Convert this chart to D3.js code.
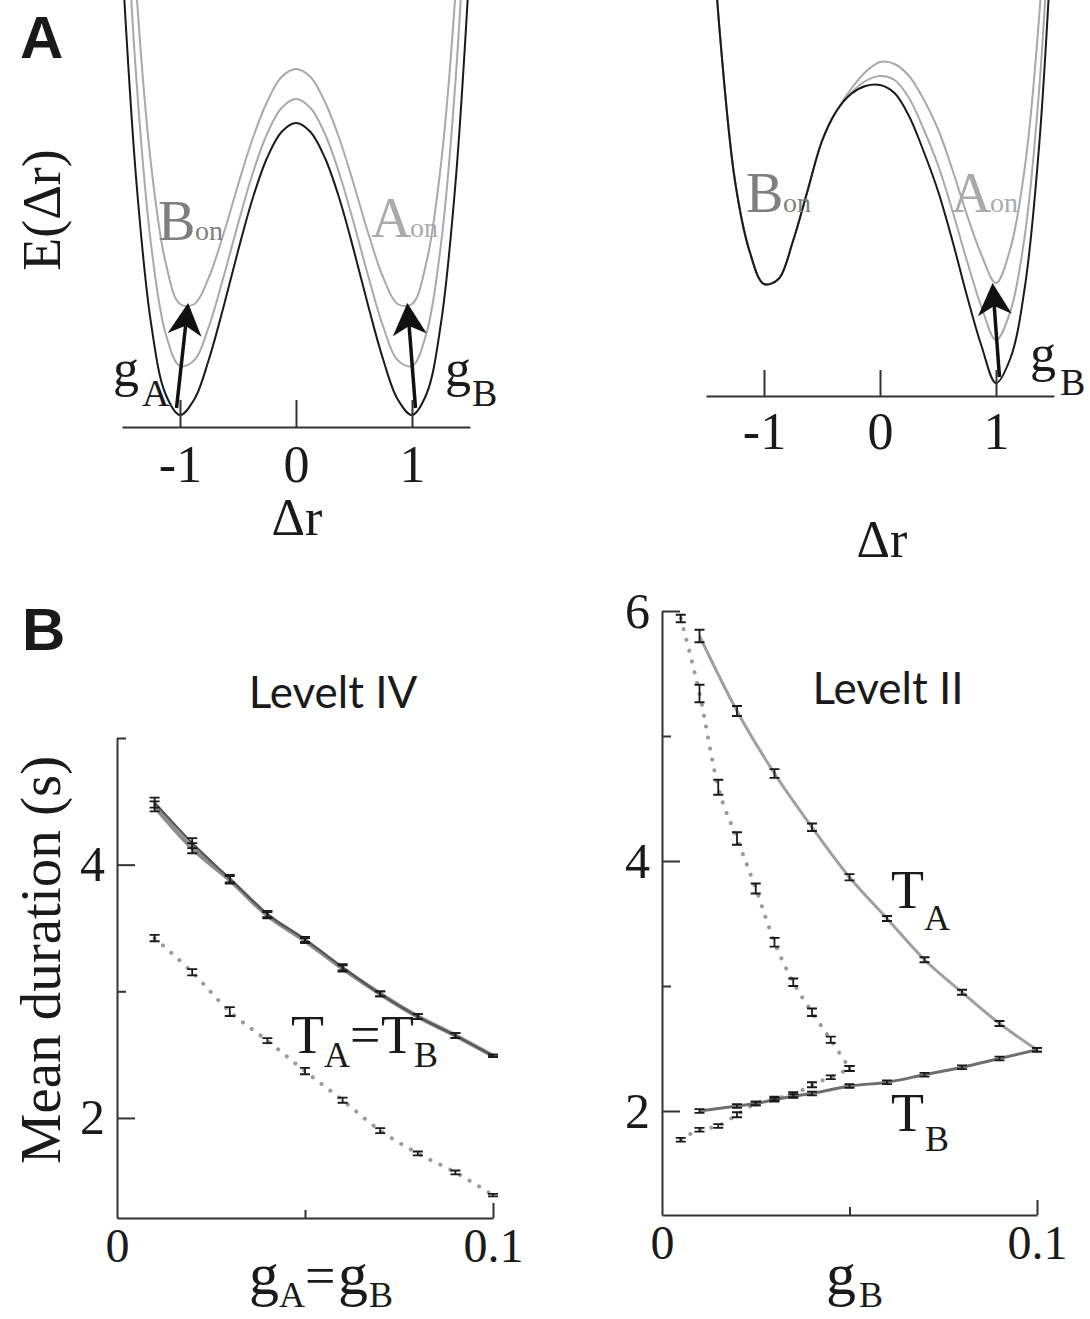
<!DOCTYPE html>
<html>
<head>
<meta charset="utf-8">
<script src="https://cdn.jsdelivr.net/npm/d3@7"></script>
<style>
  body { margin: 0; background: #fff; }
  svg { display: block; }
</style>
</head>
<body>
<svg id="fig" width="1090" height="1319"></svg>
<script>
// ---- panel A : energy landscape E(dr) ----
const wellX = [-1.5,-1.375,-1.25,-1.125,-1,-0.875,-0.75,-0.625,-0.5,-0.375,-0.25,-0.125,0,
               0.125,0.25,0.375,0.5,0.625,0.75,0.875,1,1.125,1.25,1.375,1.5];
// left: gA = gB (symmetric)
const symBlack = [4.68,2.44,1.04,0.33,0.12,0.28,0.68,1.20,1.76,2.28,2.69,2.95,3.04,2.95,2.69,2.28,1.76,1.20,0.68,0.28,0.12,0.33,1.04,2.44,4.68];
const symGrey1 = [6.01,3.46,1.83,0.94,0.61,0.67,1.01,1.50,2.03,2.53,2.93,3.19,3.28,3.19,2.93,2.53,2.03,1.50,1.01,0.67,0.61,0.94,1.83,3.46,6.01];
const symGrey2 = [6.98,4.34,2.63,1.65,1.23,1.23,1.50,1.93,2.42,2.88,3.25,3.50,3.58,3.50,3.25,2.88,2.42,1.93,1.50,1.23,1.23,1.65,2.63,4.34,6.98];
// right: only gB (asymmetric)
const asymBlack = [5.6,3.55,2.15,1.45,1.12,1.17,1.55,2.05,2.55,2.85,3.02,3.10,3.11,3.03,2.80,2.45,2.05,1.55,1.00,0.50,0.13,0.38,1.10,2.55,5.00];
const asymGrey1 = [5.6,3.55,2.15,1.45,1.12,1.17,1.55,2.05,2.55,2.85,3.03,3.15,3.20,3.16,2.98,2.67,2.31,1.85,1.35,0.89,0.56,0.85,1.62,3.11,5.60];
const asymGrey2 = [5.6,3.55,2.15,1.45,1.12,1.17,1.55,2.05,2.55,2.85,3.07,3.24,3.34,3.32,3.20,2.97,2.67,2.26,1.81,1.41,1.13,1.48,2.30,3.84,6.40];
const wellTicks = [-1, 0, 1];
// arrows [x0, E0, x1, E1]
const symArrows = [[-1.03,0.19,-0.93,1.24],[1.03,0.19,0.96,1.24]];
const asymArrows = [[1.03,0.19,0.97,1.13]];

// ---- panel B : mean durations (s) ----
const gLeft = [0.01,0.02,0.03,0.04,0.05,0.06,0.07,0.08,0.09,0.1];
const leftTA = [4.49,4.17,3.89,3.61,3.41,3.19,2.98,2.80,2.65,2.49];
const leftTB = [4.46,4.13,3.88,3.60,3.40,3.18,2.98,2.80,2.65,2.49];
const leftErr = [0.04,0.04,0.03,0.025,0.02,0.025,0.02,0.02,0.02,0.01];
const leftDot = [3.42,3.15,2.84,2.61,2.37,2.14,1.90,1.72,1.57,1.39];
const leftDotErr = [0.025,0.025,0.035,0.02,0.025,0.02,0.02,0.015,0.015,0.01];

const gRightA = [0.01,0.02,0.03,0.04,0.05,0.06,0.07,0.08,0.09,0.1];
const rightTA = [5.80,5.20,4.70,4.27,3.87,3.54,3.21,2.95,2.70,2.49];
const rightTAErr = [0.05,0.04,0.035,0.03,0.025,0.02,0.02,0.02,0.02,0.015];
const gRightB = [0.01,0.02,0.025,0.03,0.035,0.04,0.05,0.06,0.07,0.08,0.09,0.1];
const rightTB = [2.00,2.04,2.06,2.09,2.12,2.14,2.20,2.23,2.29,2.35,2.42,2.49];
const rightTBErr = [0.015,0.015,0.015,0.015,0.015,0.015,0.015,0.015,0.015,0.015,0.015,0.015];
const gDot = [0.005,0.01,0.015,0.02,0.025,0.03,0.035,0.04,0.045,0.05];
const dotUpper = [5.94,5.34,4.59,4.18,3.78,3.35,3.03,2.79,2.57,2.34];
const dotUpperErr = [0.03,0.07,0.06,0.05,0.04,0.035,0.03,0.03,0.025,0.02];
const dotLower = [1.77,1.85,1.88,1.97,2.06,2.10,2.13,2.21,2.27,2.34];
const dotLowerErr = [0.015,0.015,0.015,0.02,0.015,0.015,0.02,0.02,0.015,0.02];

const SERIF = '"Liberation Serif","DejaVu Serif",serif';
const SANS = 'Lato,"Open Sans",sans-serif';
const svg = d3.select("#fig");

function txt(x, y, s, size, opts = {}) {
  const t = svg.append("text").attr("x", x).attr("y", y).text(s)
    .attr("font-family", opts.font || SERIF).attr("font-size", size)
    .attr("fill", opts.fill || "#1a1a1a");
  if (opts.anchor) t.attr("text-anchor", opts.anchor);
  if (opts.weight) t.attr("font-weight", opts.weight);
  if (opts.rotate) t.attr("transform", `rotate(-90,${x},${y})`);
  return t;
}

function arrow(g, x, y, a) {
  const p0 = [x(a[0]), y(a[1])], p1 = [x(a[2]), y(a[3])];
  const dx = p1[0]-p0[0], dy = p1[1]-p0[1], len = Math.hypot(dx, dy);
  const u = [dx/len, dy/len], n = [-u[1], u[0]];
  const L = 32, W = 17, notch = 9;
  const back = [p1[0]-u[0]*L, p1[1]-u[1]*L];
  const nb = [p1[0]-u[0]*(L-notch), p1[1]-u[1]*(L-notch)];
  g.append("line").attr("x1", p0[0]).attr("y1", p0[1]).attr("x2", nb[0]).attr("y2", nb[1])
    .attr("stroke", "#111").attr("stroke-width", 3.5);
  g.append("path").attr("fill", "#111")
    .attr("d", `M${p1}L${back[0]+n[0]*W},${back[1]+n[1]*W}L${nb}L${back[0]-n[0]*W},${back[1]-n[1]*W}Z`);
}

function wellPanel(cfg) {
  const x = d3.scaleLinear([-1.5, 1.5], cfg.xr);
  const y = d3.scaleLinear([0, 1], [cfg.base, cfg.base - 100]);
  const g = svg.append("g");
  const line = d3.line().x(d => x(d[0])).y(d => y(d[1])).curve(d3.curveCatmullRom.alpha(0.5));
  const series = [[cfg.curves[2], "#a9a9a9"], [cfg.curves[1], "#a9a9a9"], [cfg.curves[0], "#1a1a1a"]];
  g.selectAll("path.well").data(series).join("path").attr("class", "well")
    .attr("d", d => line(wellX.map((v, i) => [v, d[0][i]])))
    .attr("fill", "none").attr("stroke", d => d[1]).attr("stroke-width", 2);

  g.append("g").attr("transform", `translate(0,${cfg.base})`)
    .call(d3.axisBottom(x).tickValues(wellTicks).tickSize(-cfg.tick).tickSizeOuter(0)
      .tickPadding(cfg.pad).tickFormat(d => String(d)))
    .call(a => a.selectAll("path, line").attr("stroke", "#333").attr("stroke-width", 2))
    .call(a => a.selectAll("text").attr("font-family", SERIF).attr("font-size", 52).attr("fill", "#1a1a1a"));

  cfg.arrows.forEach(a => arrow(g, x, y, a));
  return {x, y};
}

function errorBars(g, x, y, xs, vs, es) {
  const cap = 5;
  g.append("g").attr("stroke", "#1a1a1a").attr("stroke-width", 1.8).attr("fill", "none")
    .selectAll("path").data(xs.map((v, i) => ({g: v, v: vs[i], e: es[i]}))).join("path")
    .attr("d", d => {
      const cx = x(d.g), y0 = y(d.v - d.e), y1 = y(d.v + d.e);
      return `M${cx},${y0}V${y1}M${cx-cap},${y0}H${cx+cap}M${cx-cap},${y1}H${cx+cap}`;
    });
}

function durPanel(cfg) {
  const x = d3.scaleLinear([0, 0.1], cfg.xr);
  const y = d3.scaleLinear(cfg.yd, cfg.yr);
  const g = svg.append("g");
  const line = d3.line().x(d => x(d[0])).y(d => y(d[1])).curve(d3.curveMonotoneX);

  g.append("g").attr("transform", `translate(${cfg.xr[0]},0)`)
    .call(d3.axisLeft(y).tickValues(cfg.yTicks).tickSize(-18).tickSizeOuter(0).tickPadding(12)
      .tickFormat(d => cfg.yLabels.includes(d) ? d : ""))
    .call(a => a.selectAll(".tick line").attr("x2", d => cfg.yLabels.includes(d) ? 18 : 9))
    .call(a => a.selectAll("path, line").attr("stroke", "#333").attr("stroke-width", 2))
    .call(a => a.selectAll("text").attr("font-family", SERIF).attr("font-size", 50).attr("fill", "#1a1a1a"));

  g.append("g").attr("transform", `translate(0,${cfg.yr[0]})`)
    .call(d3.axisBottom(x).tickValues([0, 0.05, 0.1]).tickSize(-15).tickSizeOuter(0).tickPadding(10)
      .tickFormat(d => d === 0.05 ? "" : String(d)))
    .call(a => a.selectAll(".tick line").attr("y2", d => d === 0 ? 0 : d === 0.05 ? -8 : -15))
    .call(a => a.selectAll("path, line").attr("stroke", "#333").attr("stroke-width", 2))
    .call(a => a.selectAll("text").attr("font-family", SERIF).attr("font-size", 48).attr("fill", "#1a1a1a"));

  cfg.dotted.forEach(s => {
    g.append("path").attr("d", line(s.g.map((v, i) => [v, s.v[i]])))
      .attr("fill", "none").attr("stroke", "#9a9a9a").attr("stroke-width", 4)
      .attr("stroke-linecap", "round").attr("stroke-dasharray", "0.1 11");
  });
  cfg.solid.forEach(s => {
    g.append("path").attr("d", line(s.g.map((v, i) => [v, s.v[i]])))
      .attr("fill", "none").attr("stroke", s.color).attr("stroke-width", s.w);
  });
  cfg.dotted.concat(cfg.solid).forEach(s => errorBars(g, x, y, s.g, s.v, s.e));
}

// ---------- panel A ----------
wellPanel({xr: [122, 470], base: 427, tick: 27, pad: 18,
  curves: [symBlack, symGrey1, symGrey2], arrows: symArrows});
wellPanel({xr: [706, 1054], base: 396, tick: 26, pad: 16,
  curves: [asymBlack, asymGrey1, asymGrey2], arrows: asymArrows});

txt(20, 58, "A", 60, {font: '"Liberation Sans",Arial,sans-serif', weight: "bold"});
txt(60, 210, "E(\u0394r)", 54, {anchor: "middle", rotate: true});
txt(297, 535, "\u0394r", 52, {anchor: "middle"});
txt(882, 557, "\u0394r", 52, {anchor: "middle"});

txt(158, 240, "B", 56, {fill: "#7f7f7f"}); txt(195, 240, "on", 28, {fill: "#7f7f7f"});
txt(371, 237, "A", 56, {fill: "#aaaaaa"}); txt(410, 237, "on", 28, {fill: "#aaaaaa"});
txt(746, 212, "B", 56, {fill: "#7f7f7f"}); txt(783, 212, "on", 28, {fill: "#7f7f7f"});
txt(951, 212, "A", 56, {fill: "#aaaaaa"}); txt(990, 212, "on", 28, {fill: "#aaaaaa"});

txt(113, 386, "g", 52); txt(142, 406, "A", 38);
txt(445, 386, "g", 52); txt(472, 406, "B", 38);
txt(1030, 371, "g", 52); txt(1060, 395, "B", 38);

// ---------- panel B ----------
durPanel({xr: [117, 493], yd: [1.21, 5.0], yr: [1218, 738], yTicks: [2, 3, 4, 5], yLabels: [2, 4],
  dotted: [{g: gLeft, v: leftDot, e: leftDotErr}],
  solid: [{g: gLeft, v: leftTB, e: leftErr, color: "#8c8c8c", w: 4.5},
          {g: gLeft, v: leftTA, e: leftErr, color: "#555", w: 2.2}]});
durPanel({xr: [662, 1037], yd: [1.168, 6], yr: [1215, 611], yTicks: [2, 3, 4, 5, 6], yLabels: [2, 4, 6],
  dotted: [{g: gDot, v: dotUpper, e: dotUpperErr}, {g: gDot, v: dotLower, e: dotLowerErr}],
  solid: [{g: gRightA, v: rightTA, e: rightTAErr, color: "#a0a0a0", w: 3},
          {g: gRightB, v: rightTB, e: rightTBErr, color: "#6e6e6e", w: 3}]});

txt(22, 650, "B", 60, {font: '"Liberation Sans",Arial,sans-serif', weight: "bold"});
txt(333, 708, "Levelt IV", 44, {anchor: "middle", font: SANS});
txt(888, 704, "Levelt II", 44, {anchor: "middle", font: SANS});
txt(60, 960, "Mean duration (s)", 57, {anchor: "middle", rotate: true});

txt(249, 1294, "g", 60); txt(279, 1307, "A", 36); txt(305, 1294, "=", 54);
txt(338, 1294, "g", 60); txt(369, 1307, "B", 36);
txt(826, 1294, "g", 60); txt(859, 1307, "B", 36);

txt(291, 1053, "T", 54); txt(324, 1067, "A", 36); txt(350, 1053, "=", 54);
txt(381, 1053, "T", 54); txt(414, 1067, "B", 36);
txt(891, 908, "T", 54); txt(924, 930, "A", 36);
txt(891, 1131, "T", 54); txt(925, 1151, "B", 36);
</script>
</body>
</html>
